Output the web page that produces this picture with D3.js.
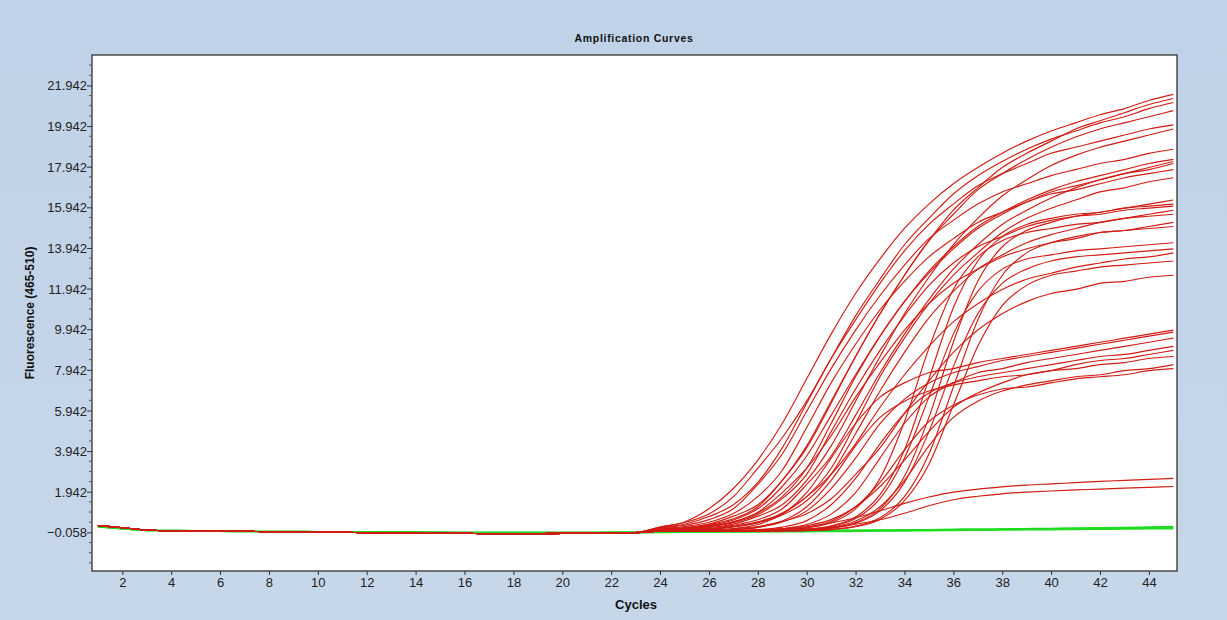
<!DOCTYPE html>
<html>
<head>
<meta charset="utf-8">
<script src="https://cdn.jsdelivr.net/npm/d3@7"></script>
<style>
  html, body { margin: 0; padding: 0; background: #c4d5e9; }
  svg { display: block; }
</style>
</head>
<body>
<svg id="chart" width="1227" height="620"></svg>
<script>
// ---- data ----
const cycles = d3.range(1, 46);

// cycles 1..23, shared flat start of the traces
const redBase   = [0.28,0.17,0.06,0.02,0.01,0.0,-0.01,-0.02,-0.03,-0.05,-0.06,-0.07,-0.08,-0.09,-0.10,-0.11,-0.12,-0.12,-0.12,-0.11,-0.10,-0.09,-0.07];
const greenBase = [0.22,0.12,0.04,0.03,0.02,0.0,-0.01,-0.02,-0.02,-0.03,-0.03,-0.03,-0.04,-0.05,-0.06,-0.07,-0.07,-0.07,-0.07,-0.07,-0.07,-0.06,-0.06];

// cycles 24..45 for each positive sample
const redTails = [
  [0.2,0.45,1.1,2.1,3.5,5.3,7.5,9.7,11.7,13.4,14.9,16.1,17.1,17.9,18.6,19.2,19.7,20.1,20.5,20.8,21.2,21.5],
  [0.1,0.18,0.35,0.74,1.3,2.5,4.2,6.4,8.6,10.7,12.6,14.3,15.8,16.9,17.9,18.6,19.2,19.8,20.2,20.6,21.0,21.3],
  [0.17,0.34,0.72,1.3,2.4,4.1,6.3,8.5,10.6,12.4,14.1,15.4,16.6,17.5,18.2,18.8,19.3,19.7,20.1,20.4,20.8,21.1],
  [0.09,0.16,0.32,0.61,1.2,2.5,4.1,6.3,8.6,10.7,12.6,14.3,15.6,16.8,17.6,18.3,18.9,19.4,19.8,20.1,20.4,20.7],
  [0.2,0.43,0.85,1.7,3.1,4.6,6.4,8.5,10.4,12.2,13.8,15.1,16.1,17.0,17.6,18.1,18.6,18.9,19.2,19.5,19.8,20.0],
  [0.05,0.1,0.18,0.35,0.74,1.3,2.5,4.2,6.4,8.6,10.7,12.5,14.1,15.4,16.5,17.3,18.0,18.5,18.9,19.2,19.5,19.8],
  [0.15,0.29,0.57,1.1,2.3,3.8,5.9,8.0,9.9,11.6,13.1,14.4,15.3,16.1,16.7,17.1,17.5,17.8,18.1,18.3,18.6,18.8],
  [0.06,0.11,0.24,0.46,0.9,1.7,3.1,5.3,7.6,9.6,11.3,12.8,14.0,15.0,15.7,16.3,16.8,17.2,17.5,17.8,18.1,18.3],
  [0.05,0.08,0.14,0.29,0.56,1.1,2.3,3.7,5.7,7.8,9.7,11.4,12.9,14.1,15.1,15.8,16.4,16.9,17.3,17.6,17.9,18.2],
  [0.08,0.14,0.28,0.55,1.1,2.2,3.7,5.7,7.7,9.6,11.3,12.7,13.9,14.9,15.6,16.2,16.7,17.0,17.3,17.6,17.8,18.1],
  [0.11,0.23,0.44,0.87,1.7,3.0,5.1,7.3,9.2,10.9,12.3,13.5,14.4,15.2,15.7,16.2,16.6,16.8,17.1,17.4,17.6,17.8],
  [0.03,0.06,0.11,0.24,0.46,0.9,1.7,3.1,5.3,7.6,9.5,11.2,12.6,13.7,14.7,15.4,15.9,16.3,16.7,16.9,17.2,17.4],
  [0.06,0.1,0.22,0.42,0.82,1.6,2.8,4.9,7.0,8.9,10.6,12.1,13.2,14.0,14.5,15.0,15.3,15.5,15.7,15.9,16.1,16.3],
  [0,0,0,0.01,0.02,0.04,0.1,0.27,0.7,1.8,4.0,7.5,11.0,13.3,14.5,15.1,15.4,15.6,15.7,15.9,16.0,16.1],
  [0,0,0,0,0.01,0.02,0.06,0.16,0.43,1.1,2.7,5.6,9.3,12.3,14.0,14.8,15.2,15.5,15.6,15.8,15.9,16.0],
  [0.03,0.06,0.1,0.21,0.41,0.8,1.5,2.8,4.8,6.9,8.8,10.5,11.8,12.9,13.6,14.2,14.6,14.9,15.2,15.4,15.6,15.8],
  [0,0,0,0.01,0.02,0.06,0.16,0.42,1.1,2.6,5.4,9.0,11.9,13.5,14.3,14.7,14.9,15.1,15.2,15.4,15.5,15.6],
  [0.07,0.12,0.24,0.46,0.93,1.9,3.1,4.7,6.6,8.3,9.9,11.2,12.2,12.9,13.5,13.9,14.2,14.4,14.7,14.8,15.0,15.2],
  [0,0,0,0,0.01,0.02,0.04,0.09,0.25,0.66,1.7,3.8,7.1,10.4,12.6,13.7,14.2,14.5,14.7,14.8,14.9,15.0],
  [0,0,0,0.01,0.01,0.03,0.09,0.24,0.62,1.6,3.6,6.6,9.7,11.8,12.9,13.4,13.6,13.8,13.9,14.0,14.1,14.2],
  [0,0,0,0,0.01,0.02,0.05,0.14,0.38,1.0,2.4,4.9,8.1,10.7,12.2,12.9,13.3,13.5,13.6,13.7,13.8,13.9],
  [0.04,0.06,0.11,0.22,0.43,0.86,1.7,2.8,4.3,6.1,7.7,9.1,10.3,11.2,11.9,12.4,12.7,13.0,13.2,13.4,13.5,13.7],
  [0,0,0,0,0.01,0.01,0.03,0.08,0.22,0.58,1.5,3.3,6.2,9.1,11.1,12.1,12.6,12.8,13.0,13.1,13.2,13.3],
  [0.02,0.03,0.07,0.12,0.23,0.48,0.86,1.6,2.8,4.1,5.8,7.4,8.8,9.9,10.7,11.3,11.7,11.9,12.2,12.3,12.5,12.6],
  [0.01,0.02,0.05,0.13,0.33,0.84,1.9,3.6,5.3,6.6,7.3,7.8,8.0,8.3,8.5,8.7,8.9,9.1,9.3,9.5,9.7,9.9],
  [0.01,0.01,0.03,0.08,0.19,0.45,1.0,2.1,3.6,5.3,6.5,7.3,7.8,8.1,8.4,8.6,8.8,9.0,9.2,9.4,9.6,9.8],
  [0,0.01,0.01,0.02,0.05,0.13,0.33,0.84,1.9,3.6,5.3,6.6,7.3,7.8,8.0,8.3,8.5,8.7,8.9,9.1,9.3,9.5],
  [0,0,0.01,0.03,0.08,0.2,0.52,1.3,2.6,4.3,5.8,6.8,7.3,7.6,7.8,8.0,8.2,8.4,8.6,8.7,8.9,9.1],
  [0,0.01,0.01,0.03,0.06,0.12,0.27,0.57,1.2,2.2,3.5,4.9,6.1,6.8,7.3,7.7,7.9,8.2,8.4,8.5,8.7,8.9],
  [0,0.01,0.03,0.07,0.19,0.5,1.2,2.5,4.2,5.6,6.4,6.9,7.2,7.4,7.6,7.7,7.9,8.0,8.2,8.3,8.5,8.6],
  [0,0,0,0,0.01,0.03,0.07,0.19,0.5,1.2,2.5,4.2,5.6,6.4,6.9,7.2,7.4,7.6,7.7,7.9,8.0,8.2],
  [0,0,0,0.01,0.03,0.07,0.19,0.49,1.2,2.4,4.0,5.4,6.2,6.7,7.0,7.1,7.3,7.5,7.6,7.7,7.9,8.0],
  [0,0.01,0.01,0.03,0.06,0.11,0.22,0.4,0.66,1.0,1.37,1.68,1.92,2.07,2.18,2.27,2.33,2.39,2.45,2.5,2.55,2.6],
  [0,0,0.01,0.01,0.03,0.05,0.1,0.19,0.34,0.56,0.88,1.25,1.55,1.72,1.84,1.92,1.98,2.03,2.07,2.12,2.16,2.2]
];

// negative samples, cycles 24..45
const greenTails = [
  [-0.05,-0.04,-0.03,-0.02,-0.01,0,0.01,0.02,0.03,0.04,0.05,0.06,0.08,0.09,0.1,0.12,0.13,0.15,0.16,0.18,0.2,0.22],
  [-0.06,-0.05,-0.04,-0.04,-0.03,-0.02,-0.02,-0.01,0,0.01,0.02,0.03,0.04,0.05,0.06,0.07,0.08,0.09,0.1,0.11,0.12,0.13],
  [-0.04,-0.03,-0.02,-0.01,0,0.01,0.02,0.03,0.04,0.05,0.06,0.07,0.08,0.09,0.1,0.11,0.12,0.13,0.14,0.15,0.16,0.17]
];

const yTickValues = [-0.058,1.942,3.942,5.942,7.942,9.942,11.942,13.942,15.942,17.942,19.942,21.942];
const xTickValues = [2,4,6,8,10,12,14,16,18,20,22,24,26,28,30,32,34,36,38,40,42,44];

const title = "Amplification Curves";
const xTitle = "Cycles";
const yTitle = "Fluorescence (465-510)";

// ---- drawing ----
const svg = d3.select("#chart");
const W = 1227, H = 620;
const plot = { left: 92, right: 1177, top: 55, bottom: 571 };

const defs = svg.append("defs");
const bg = defs.append("linearGradient").attr("id", "bg").attr("x1", 0).attr("y1", 0).attr("x2", 0).attr("y2", 1);
bg.append("stop").attr("offset", "0%").attr("stop-color", "#c0d2e7");
bg.append("stop").attr("offset", "100%").attr("stop-color", "#c7d7ea");
defs.append("clipPath").attr("id", "clip")
  .append("rect")
  .attr("x", plot.left).attr("y", plot.top)
  .attr("width", plot.right - plot.left).attr("height", plot.bottom - plot.top);

svg.append("rect").attr("width", W).attr("height", H).attr("fill", "url(#bg)");

const x = d3.scaleLinear().domain([0.76, 45.15]).range([plot.left, plot.right]);
const y = d3.scaleLinear().domain([-1.96, 23.44]).range([plot.bottom, plot.top]);

svg.append("rect")
  .attr("x", plot.left).attr("y", plot.top)
  .attr("width", plot.right - plot.left).attr("height", plot.bottom - plot.top)
  .attr("fill", "#fff");

const toPoints = (base, tail) => base.concat(tail).map((v, i) => ({ c: cycles[i], v }));
const line = d3.line().curve(d3.curveMonotoneX).x(d => x(d.c)).y(d => y(d.v));

const curves = svg.append("g").attr("clip-path", "url(#clip)");
curves.selectAll("path.neg").data(greenTails.map(t => toPoints(greenBase, t)))
  .join("path").attr("class", "neg")
  .attr("fill", "none").attr("stroke", "#1fdc1f").attr("stroke-width", 1.7)
  .attr("d", line);
curves.selectAll("path.pos").data(redTails.map(t => toPoints(redBase, t)))
  .join("path").attr("class", "pos")
  .attr("fill", "none").attr("stroke", "#d01c14").attr("stroke-width", 1.15)
  .attr("d", line);

// frame
svg.append("rect")
  .attr("x", plot.left).attr("y", plot.top)
  .attr("width", plot.right - plot.left).attr("height", plot.bottom - plot.top)
  .attr("fill", "none").attr("stroke", "#222").attr("stroke-width", 1.2);

// y axis
const yAxis = svg.append("g")
  .attr("transform", `translate(${plot.left},0)`)
  .call(d3.axisLeft(y).tickValues(yTickValues).tickFormat(d3.format(".3f")).tickSize(5).tickSizeOuter(0));
yAxis.select(".domain").remove();
yAxis.selectAll("text").attr("font-family", "Arial, 'Liberation Sans', sans-serif").attr("font-size", 13).attr("fill", "#222").attr("dy", "0.35em").attr("x", -5);
yAxis.selectAll(".tick line").attr("stroke", "#333");

// minor y ticks
const yMinor = d3.range(-1.558, 23.44, 0.5).filter(v => !yTickValues.some(t => Math.abs(t - v) < 1e-6));
svg.append("g").selectAll("line").data(yMinor).join("line")
  .attr("x1", plot.left - 3).attr("x2", plot.left)
  .attr("y1", d => y(d)).attr("y2", d => y(d))
  .attr("stroke", "#555");

// x axis
const xAxis = svg.append("g")
  .attr("transform", `translate(0,${plot.bottom})`)
  .call(d3.axisBottom(x).tickValues(xTickValues).tickFormat(d3.format("d")).tickSize(4).tickSizeOuter(0));
xAxis.select(".domain").remove();
xAxis.selectAll("text").attr("font-family", "Arial, 'Liberation Sans', sans-serif").attr("font-size", 13).attr("fill", "#222").attr("y", 7);
xAxis.selectAll(".tick line").attr("stroke", "#333");

// titles
svg.append("text")
  .attr("x", 634).attr("y", 42)
  .attr("text-anchor", "middle")
  .attr("font-family", "Arial, 'Liberation Sans', sans-serif")
  .attr("font-size", 10.5).attr("font-weight", 700).attr("letter-spacing", "0.7px")
  .attr("fill", "#111")
  .text(title);

svg.append("text")
  .attr("x", 636).attr("y", 609)
  .attr("text-anchor", "middle")
  .attr("font-family", "'Liberation Sans Narrow', Arial, sans-serif")
  .attr("font-size", 13).attr("font-weight", 700)
  .attr("fill", "#111")
  .text(xTitle);

svg.append("text")
  .attr("transform", `translate(34,${(plot.top + plot.bottom) / 2}) rotate(-90)`)
  .attr("text-anchor", "middle")
  .attr("font-family", "'Liberation Sans Narrow', Arial, sans-serif")
  .attr("font-size", 12).attr("font-weight", 700)
  .attr("fill", "#111")
  .text(yTitle);
</script>
</body>
</html>
